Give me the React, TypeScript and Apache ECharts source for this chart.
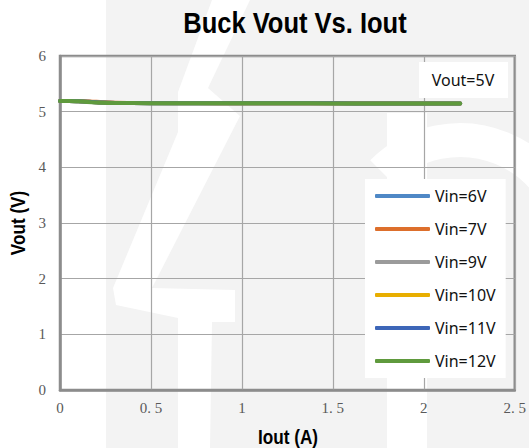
import React, { useEffect, useRef } from "react";
import * as echarts from "echarts";

const seriesNames = ["Vin=6V", "Vin=7V", "Vin=9V", "Vin=10V", "Vin=11V", "Vin=12V"];
const seriesColors = ["#4f88c6", "#dd6f2c", "#9b9b9b", "#e8ae00", "#3d66b8", "#5f9a3d"];
const iout = [0, 0.05, 0.1, 0.2, 0.3, 0.5, 0.75, 1.0, 1.25, 1.5, 1.75, 2.0, 2.2];
const vin6 = [5.19, 5.19, 5.186, 5.168, 5.156, 5.153, 5.152, 5.151, 5.15, 5.149, 5.148, 5.147, 5.146];
const vin7 = [5.192, 5.192, 5.19, 5.176, 5.162, 5.156, 5.154, 5.152, 5.151, 5.15, 5.149, 5.148, 5.147];
const vin9 = [5.19, 5.19, 5.187, 5.17, 5.158, 5.154, 5.152, 5.151, 5.15, 5.149, 5.148, 5.147, 5.146];
const vin10 = [5.19, 5.19, 5.186, 5.169, 5.157, 5.153, 5.152, 5.151, 5.15, 5.149, 5.148, 5.147, 5.146];
const vin11 = [5.19, 5.19, 5.186, 5.168, 5.156, 5.153, 5.152, 5.151, 5.15, 5.149, 5.148, 5.147, 5.146];
const vin12 = [5.19, 5.19, 5.185, 5.166, 5.155, 5.153, 5.152, 5.15, 5.15, 5.148, 5.147, 5.146, 5.145];
const seriesValues = [vin6, vin7, vin9, vin10, vin11, vin12];
const titleText = "Buck Vout Vs. Iout";
const xName = "Iout (A)";
const yName = "Vout (V)";
const noteText = "Vout=5V";

export default function App() {
  const ref = useRef<HTMLDivElement>(null);
  useEffect(() => {
    if (!ref.current) return;
    const chart = echarts.init(ref.current, null, { renderer: "svg" });
    const labelFont = { fontFamily: "Liberation Serif", fontSize: 15, color: "#595959" };
    const option: any = {
      animation: false,
      backgroundColor: "#f3f3f3",
      color: seriesColors,
      grid: {
        left: 60,
        top: 56,
        right: 12,
        bottom: 58,
        show: true,
        borderColor: "#8c8c8c",
        borderWidth: 2.5,
        backgroundColor: "transparent",
      },
      xAxis: {
        type: "value",
        min: 0,
        max: 2.5,
        interval: 0.5,
        axisLine: { show: true, lineStyle: { color: "#8c8c8c", width: 2.5 } },
        axisTick: { show: false },
        axisLabel: {
          ...labelFont,
          margin: 10,
          formatter: (v: number) => String(v).replace(".", ". "),
        },
        splitLine: { show: true, lineStyle: { color: "#a6a6a6", width: 1.2 } },
      },
      yAxis: {
        type: "value",
        min: 0,
        max: 6,
        interval: 1,
        axisLine: { show: true, lineStyle: { color: "#8c8c8c", width: 2.5 } },
        axisTick: { show: false },
        axisLabel: { ...labelFont, margin: 14 },
        splitLine: { show: true, lineStyle: { color: "#a6a6a6", width: 1.2 } },
      },
      legend: {
        orient: "vertical",
        left: 365,
        top: 179,
        backgroundColor: "#ffffff",
        padding: [7, 10, 7, 10],
        itemWidth: 55,
        itemHeight: 4,
        itemGap: 13,
        icon: "roundRect",
        textStyle: { fontFamily: "Noto Sans", fontSize: 16, color: "#111", lineHeight: 20 },
        data: seriesNames,
      },
      series: seriesNames.map((name, i) => ({
        name,
        type: "line",
        showSymbol: false,
        smooth: true,
        data: iout.map((x, j) => [x, seriesValues[i][j]]),
        lineStyle: { width: 4, cap: "round", color: seriesColors[i] },
        itemStyle: { color: seriesColors[i] },
      })),
      graphic: [
        { type: "rect", z: -10, shape: { x: 0, y: 0, width: 106, height: 448 }, style: { fill: "#ffffff" } },
        {
          type: "polygon",
          z: -10,
          shape: {
            points: [
              [212, 0], [250, 0], [208, 88], [240, 116], [152, 288], [235, 290], [235, 322],
              [212, 322], [210, 448], [178, 448], [178, 318], [116, 305], [113, 288], [178, 132], [178, 92],
            ],
          },
          style: { fill: "#ffffff" },
        },
        { type: "rect", z: -10, shape: { x: 387, y: 113, width: 40, height: 335 }, style: { fill: "#ffffff" } },
        {
          type: "arc",
          z: -10,
          shape: { cx: 460, cy: 250, r: 110, startAngle: -Math.PI * 0.75, endAngle: 0 },
          style: { stroke: "#ffffff", lineWidth: 34, fill: "none" },
        },
        {
          type: "rect",
          z: 100,
          shape: { x: 419, y: 62, width: 89, height: 36 },
          style: { fill: "#ffffff" },
        },
        {
          type: "text",
          z: 101,
          x: 463,
          y: 80,
          style: {
            text: noteText,
            fontFamily: "Noto Sans",
            fontSize: 16,
            fill: "#111",
            textAlign: "center",
            textVerticalAlign: "middle",
          },
        },
        {
          type: "text",
          z: 101,
          x: 295,
          y: 23,
          scaleX: 0.88,
          style: {
            text: titleText,
            fontFamily: "Liberation Sans",
            fontWeight: "bold",
            fontSize: 29,
            fill: "#000",
            textAlign: "center",
            textVerticalAlign: "middle",
          },
        },
        {
          type: "text",
          z: 101,
          x: 288,
          y: 437,
          scaleX: 0.86,
          style: {
            text: xName,
            fontFamily: "Liberation Sans",
            fontWeight: "bold",
            fontSize: 20,
            fill: "#000",
            textAlign: "center",
            textVerticalAlign: "middle",
          },
        },
        {
          type: "text",
          z: 101,
          x: 18,
          y: 223,
          rotation: Math.PI / 2,
          scaleX: 0.86,
          style: {
            text: yName,
            fontFamily: "Liberation Sans",
            fontWeight: "bold",
            fontSize: 20,
            fill: "#000",
            textAlign: "center",
            textVerticalAlign: "middle",
          },
        },
      ],
    };
    chart.setOption(option);
    return () => chart.dispose();
  }, []);
  return (
    <div
      ref={ref}
      style={{ position: "absolute", left: 0, top: 0, width: 529, height: 448 }}
    />
  );
}
